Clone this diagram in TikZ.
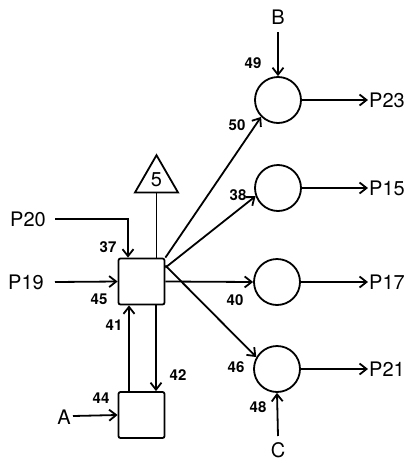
\documentclass[tikz,border=0pt]{standalone}
\usepackage{fontspec}
\setmainfont{TeX Gyre Heros}
\usetikzlibrary{arrows.meta,shapes.geometric}

\tikzset{
  box/.style={draw,line width=1.8pt,rounded corners=2pt,minimum size=46pt,inner sep=0pt},
  pool/.style={draw,circle,line width=1.8pt,minimum size=46pt,inner sep=0pt},
  tag/.style={font=\fontsize{15}{15}\selectfont\bfseries,inner sep=0pt},
  lbl/.style={font=\fontsize{20}{20}\selectfont,inner sep=1pt},
  flow/.style={line width=1.8pt,-{Straight Barb[length=7pt,width=11pt,line width=1.8pt]}}
}

\begin{document}
\begin{tikzpicture}[x=1pt,y=-1pt]
\useasboundingbox (0,0) rectangle (406,461);
\node[box] (hub) at (141.5,281.5) {};
\node[box] (low) at (141.5,415) {};
\node[draw,regular polygon,regular polygon sides=3,minimum size=49.6pt,inner sep=0pt,line width=1.8pt,font=\fontsize{20}{20}\selectfont] (tri) at (156.5,180) {5};
\node[pool] (c23) at (278,100) {};
\node[pool] (c15) at (278,188) {};
\node[pool] (c17) at (277,282) {};
\node[pool] (c21) at (277,369) {};

\node[lbl] (p20) at (28,219) {P20};
\node[lbl] (p19) at (26,282) {P19};
\node[lbl] (a) at (64,417) {A};
\node[lbl] (b) at (278,17) {B};
\node[lbl] (c) at (278,450) {C};
\node[lbl,anchor=west] (p23) at (368,100) {P23};
\node[lbl,anchor=west] (p15) at (368,188) {P15};
\node[lbl,anchor=west] (p17) at (368,282) {P17};
\node[lbl,anchor=west] (p21) at (368,369) {P21};

\coordinate (p20e) at (55,219);
\coordinate (p19e) at (55,282);
\coordinate (ae) at (73,416);
\coordinate (be) at (278,32);
\coordinate (ce) at (278,436);

\draw[line width=1.8pt] (tri.south) -- (tri.south |- hub.north);
\draw[flow] (p20e) -| ([xshift=-13.5pt]hub.north);
\draw[flow] (p19e) -- (hub.west);
\draw[flow] (ae) -- (low.west);
\draw[flow] ([xshift=-12.5pt]low.north) -- ([xshift=-12.5pt]hub.south);
\draw[flow] ([xshift=14.5pt]hub.south) -- ([xshift=14.5pt]low.north);
\draw[flow] (be) -- (c23.north);
\draw[flow] (ce) -- (c21.south);
\draw[flow] (hub.north east) -- (c23.225);
\draw[flow] ([yshift=-10pt]hub.north east) -- (c15.200);
\draw[flow] (hub.east) -- (c17.west);
\draw[flow] ([yshift=16pt]hub.east) -- (c21.150);
\draw[flow] (c23.east) -- (p23.west);
\draw[flow] (c15.east) -- (p15.west);
\draw[flow] (c17.east) -- (p17.west);
\draw[flow] (c21.east) -- (p21.west);

\node[tag] at (108,247) {37};
\node[tag] at (99,299) {45};
\node[tag] at (114,325) {41};
\node[tag] at (178,375) {42};
\node[tag] at (101,398) {44};
\node[tag] at (253,63) {49};
\node[tag] at (237,125) {50};
\node[tag] at (238,195) {38};
\node[tag] at (235,300) {40};
\node[tag] at (236,367) {46};
\node[tag] at (258,407) {48};
\end{tikzpicture}
\end{document}
